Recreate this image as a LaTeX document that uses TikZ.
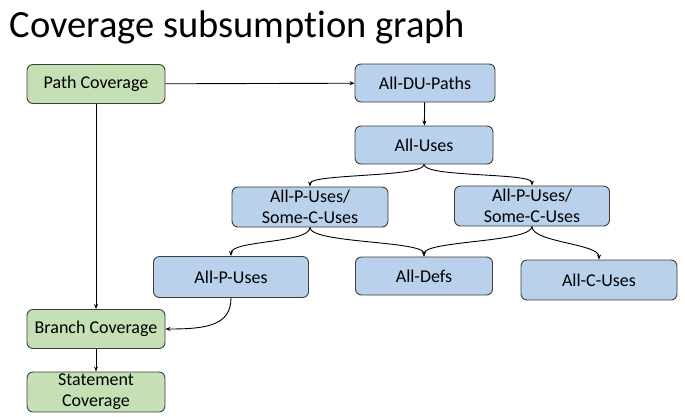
\documentclass[tikz,border=0pt]{standalone}
\usepackage{fontspec}
\setmainfont[Ligatures=NoCommon]{Carlito}
\usetikzlibrary{arrows.meta}

\definecolor{covgreen}{RGB}{197,224,180}
\definecolor{dfblue}{RGB}{185,209,235}
\definecolor{boxline}{RGB}{60,60,60}

\begin{document}
\begin{tikzpicture}[x=1pt,y=-1pt,
	every node/.style={font=\fontsize{18}{21}\selectfont, align=center},
	box/.style={draw=boxline, line width=0.9pt, rounded corners=6pt, inner sep=0pt},
	cov/.style={box, fill=covgreen, minimum width=138pt, minimum height=39pt},
	du/.style={box, fill=dfblue, minimum height=38pt},
	arr/.style={-{Stealth[length=5pt,width=4pt]}, line width=0.9pt}]
		\useasboundingbox (0,0) rectangle (685,416);
		\node[anchor=base west, font=\fontsize{38.5}{42}\selectfont] (title) at (6,37) {Coverage subsumption graph};
		% coverage criteria
		\node[cov] (path) at (96,84) {Path Coverage};
		\node[cov] (branch) at (96,329) {Branch Coverage};
		\node[cov, minimum height=40pt] (stmt) at (96,392) {Statement\\Coverage};
		% data flow criteria
		\node[du, minimum width=140pt] (dupaths) at (425,83) {All-DU-Paths};
		\node[du, minimum width=138pt] (uses) at (424,145) {All-Uses};
		\node[du, minimum width=156pt, minimum height=40pt] (pusl) at (310,207) {All-P-Uses/\\Some-C-Uses};
		\node[du, minimum width=155pt, minimum height=40pt] (pusr) at (532,206) {All-P-Uses/\\Some-C-Uses};
		\node[du, minimum width=155pt, minimum height=41pt] (puses) at (231,277) {All-P-Uses};
		\node[du, minimum width=137pt] (defs) at (424,276) {All-Defs};
		\node[du, minimum width=156pt, minimum height=40pt] (cuses) at (599,280) {All-C-Uses};
		\draw[arr] (path) -- (dupaths); \draw[arr] (path) -- (branch); \draw[arr] (branch) -- (stmt);
		\draw[arr] (dupaths) -- (uses);
		\draw[arr] (uses.south) .. controls +(0,13) and +(0,-13) .. (pusl.north);
		\draw[arr] (uses.south) .. controls +(0,13) and +(0,-13) .. (pusr.north);
		\draw[arr] (pusl.south) .. controls +(0,16) and +(0,-16) .. (puses.north);
		\draw[arr] (pusl.south) .. controls +(0,16) and +(0,-16) .. (defs.north);
		\draw[arr] (pusr.south) .. controls +(0,16) and +(0,-16) .. (defs.north);
		\draw[arr] (pusr.south) .. controls +(0,16) and +(0,-16) .. (cuses.north);
		\draw[arr] (puses.south) .. controls +(0,28) and +(40,0) .. (branch.east);
	\end{tikzpicture}
\end{document}
